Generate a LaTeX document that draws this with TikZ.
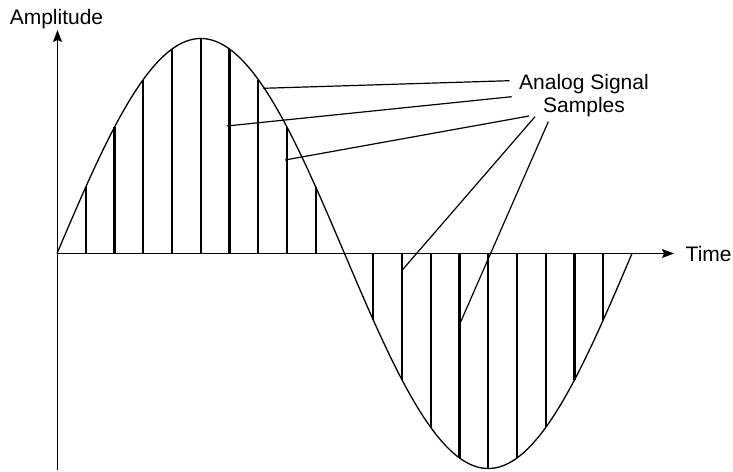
\documentclass[tikz,border=0pt]{standalone}
\usepackage{fontspec}
\setmainfont{Liberation Sans}
\usetikzlibrary{arrows.meta}
\begin{document}
\begin{tikzpicture}[x=1pt,y=-1pt,
  axis/.style={line width=1.1pt,-{Stealth[length=12pt,width=9pt,inset=2pt]}},
  sig/.style={line width=1.3pt},
  smp/.style={line width=2.1pt},
  leader/.style={line width=1.2pt},
  lbl/.style={font=\fontsize{21}{25}\selectfont,inner sep=0pt,anchor=base}]
\useasboundingbox (0,0) rectangle (733,471);
% axes
\coordinate (o) at (57.5,253.5);
\coordinate (ybot) at (57.5,470);
\coordinate (ytop) at (57.5,30);
\coordinate (xend) at (674,253.5);
\draw[axis] (ybot) -- (ytop);
\draw[axis] (o) -- (xend);
% samples
\foreach \k in {1,...,9,11,12,...,19}{
  \draw[smp] ({57+28.75*\k},253.5) -- ({57+28.75*\k},{253.5-215*sin(\k*18)});
}
% signal
\draw[sig] plot[domain=0:575,samples=241,smooth] ({57+\x},{253.5-215*sin(\x/575*360)});
% labels
\node[lbl] (amp) at (56.5,24) {Amplitude};
\node[lbl,anchor=base west] (time) at (685.5,261) {Time};
\node[lbl] (analog) at (584,89) {Analog Signal};
\node[lbl] (samples) at (584,112) {Samples};
% leader ends
\coordinate (a1) at (509.5,80.7);
\coordinate (a2) at (511.7,96.7);
\coordinate (a3) at (529,116);
\coordinate (s1) at (535,116.7);
\coordinate (s2) at (548.3,121.7);
\coordinate (p1) at (263.3,88.3);
\coordinate (p2) at (226.7,126);
\coordinate (p3) at (285,160);
\coordinate (p4) at (401.7,270.7);
\coordinate (p5) at (459,325.7);
\draw[leader] (a1) -- (p1);
\draw[leader] (a2) -- (p2);
\draw[leader] (a3) -- (p3);
\draw[leader] (s1) -- (p4);
\draw[leader] (s2) -- (p5);
\end{tikzpicture}
\end{document}
